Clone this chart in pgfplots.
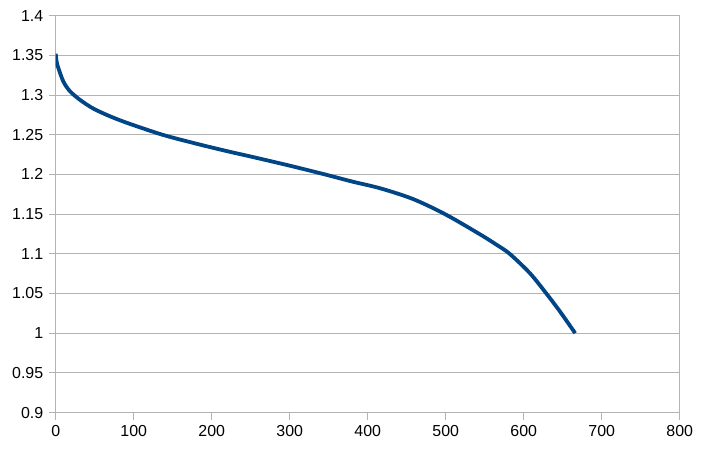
\documentclass[border=0pt]{standalone}
\usepackage{pgfplots}
\pgfplotsset{compat=1.18}
\usepackage{fontspec}
\setmainfont{Liberation Sans}
\definecolor{lobl}{HTML}{004586}
\definecolor{grd}{HTML}{B3B3B3}
\begin{document}
\begin{tikzpicture}[x=1bp,y=1bp]
\begin{axis}[
    scale only axis,
    width=624bp, height=397bp,
    xmin=0, xmax=800, ymin=0.9, ymax=1.4,
    xtick={0,100,...,800},
    ytick={0.9,0.95,1,1.05,1.1,1.15,1.2,1.25,1.3,1.35,1.4},
    yticklabels={0.9,0.95,1,1.05,1.1,1.15,1.2,1.25,1.3,1.35,1.4},
    ymajorgrids, grid style={grd, line width=0.9bp},
    axis line style={grd, line width=0.9bp},
    tick style={grd, line width=0.9bp},
    tick align=outside, major tick length=7bp,
    xtick pos=bottom, ytick pos=left,
    ticklabel style={font=\fontsize{16}{18}\selectfont, text=black},
    /pgf/number format/assume math mode=true,
    xticklabel style={yshift=-2bp},
    yticklabel style={xshift=-2bp},
]
\addplot[lobl, line width=3.8bp, smooth, tension=0.5, line cap=butt] coordinates {
    (0,1.352)(1.2,1.342)(3.4,1.334)(9.8,1.317)(18,1.305)(31,1.294)(48,1.283)
    (70,1.273)(94,1.264)(138,1.2496)(185,1.2375)(223,1.2285)(250,1.2225)
    (300,1.211)(343,1.2005)(380,1.191)(416,1.1825)(458,1.169)(499,1.150)
    (544,1.1245)(565,1.1115)(582,1.100)(608,1.0755)(629,1.050)(646,1.028)(666,1.000)};
\end{axis}
\pgfresetboundingbox
\path ([shift={(-55.7bp,-41.3bp)}]current axis.south west) rectangle ([shift={(26.3bp,15.6bp)}]current axis.north east);
\end{tikzpicture}
\end{document}
